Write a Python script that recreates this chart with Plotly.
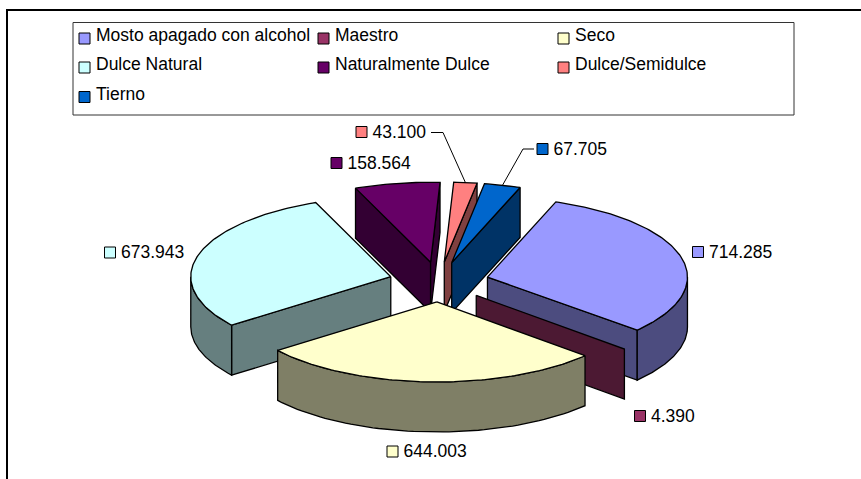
import numpy as np
import plotly.graph_objects as go

# ---- data ----
categories = ["Mosto apagado con alcohol", "Maestro", "Seco", "Dulce Natural",
              "Naturalmente Dulce", "Dulce/Semidulce", "Tierno"]
values = [714285, 4390, 644003, 673943, 158564, 43100, 67705]
colors = ["#9999FF", "#993366", "#FFFFCC", "#CCFFFF", "#660066", "#FF8080", "#0066CC"]

# ---- layout / projection parameters ----
W, H = 861, 479
CX, CY = 439, 282      # pie centre on the page
RX, RY = 200, 80       # tilted disc radii
DEPTH = 50             # thickness
EXPLODE = 0.25
FIRST_ANGLE = 20       # first slice angle, degrees clockwise from top
FONT = "Liberation Sans, Arial, sans-serif"
FS = 17.5

legend_x = [79, 318, 558]
legend_y = [38.5, 67.5, 97]
label_swatch_x = [698, 640, 392.5, 110, 336.5, 361.5, 542.5]
label_swatch_y = [252, 416, 451.5, 252.5, 163, 132, 149]
leader_knee = {5: [(431, 132.5), (443, 132.5)], 6: [(534, 149), (523, 149)]}


def darker(hex_color):
    r, g, b = (int(hex_color[i:i + 2], 16) for i in (1, 3, 5))
    return f"rgb({r // 2},{g // 2},{b // 2})"


def rim(ax, ay, t):
    rad = np.radians(t)
    return ax + RX * np.sin(rad), ay - RY * np.cos(rad)


def poly(fig, xs, ys, fill, name):
    xs, ys = list(xs), list(ys)
    fig.add_trace(go.Scatter(
        x=xs + xs[:1], y=ys + ys[:1], mode="lines", fill="toself", fillcolor=fill,
        line=dict(color="black", width=1.3), name=name, hoverinfo="skip", showlegend=False))


fig = go.Figure()

total = sum(values)
spans = np.array(values) / total * 360
starts = FIRST_ANGLE + np.concatenate([[0], np.cumsum(spans)[:-1]])
ends = starts + spans
mids = (starts + ends) / 2
apex_x = CX + EXPLODE * RX * np.sin(np.radians(mids))
apex_y = CY - EXPLODE * RY * np.cos(np.radians(mids))

for i in sorted(range(len(values)), key=lambda k: -np.cos(np.radians(mids[k]))):
    ax, ay, t1, t2 = apex_x[i], apex_y[i], starts[i], ends[i]
    side = darker(colors[i])
    sliver = spans[i] < 1.5    # too thin for a visible top: only its cut face shows
    # flat cut faces, drawn only when they look toward the viewer
    for t, normal in ((t1, t1 - 90), (t2, t2 + 90)):
        if np.cos(np.radians(normal)) < 0:
            px, py = rim(ax, ay, t)
            poly(fig, [ax, px, px, ax], [ay, py, py + DEPTH, ay + DEPTH], side, categories[i])
    if sliver:
        continue
    # outer wall: only the part facing the viewer
    for lo, hi in ((90, 270), (450, 630)):
        a, b = max(t1, lo), min(t2, hi)
        if a < b:
            ts = np.linspace(a, b, 60)
            px, py = rim(ax, ay, ts)
            poly(fig, np.r_[px, px[::-1]], np.r_[py, py[::-1] + DEPTH], side, categories[i])
    # top face
    ts = np.linspace(t1, t2, max(3, int(spans[i]) + 2))
    px, py = rim(ax, ay, ts)
    poly(fig, np.r_[ax, px], np.r_[ay, py], colors[i], categories[i])

# leader lines
for i, knee in leader_knee.items():
    ex, ey = rim(apex_x[i], apex_y[i], mids[i])
    fig.add_trace(go.Scatter(
        x=[p[0] for p in knee] + [ex], y=[p[1] for p in knee] + [ey], mode="lines",
        line=dict(color="black", width=1), hoverinfo="skip", showlegend=False))

# value labels
labels = [f"{v:,}".replace(",", ".") for v in values]
fig.add_trace(go.Scatter(
    x=label_swatch_x, y=label_swatch_y, mode="markers",
    marker=dict(symbol="square", size=11, color=colors, line=dict(color="black", width=1)),
    hoverinfo="skip", showlegend=False))
fig.add_trace(go.Scatter(
    x=[x + 11 for x in label_swatch_x], y=[y + 1.5 for y in label_swatch_y], mode="text", text=labels,
    textposition="middle right", textfont=dict(family=FONT, size=FS, color="black"),
    hoverinfo="skip", showlegend=False))

# legend entries (three columns, filled row by row)
leg_x = [legend_x[i % 3] + 5.5 for i in range(len(categories))]
leg_y = [legend_y[i // 3] for i in range(len(categories))]
fig.add_trace(go.Scatter(
    x=leg_x, y=leg_y, mode="markers",
    marker=dict(symbol="square", size=11, color=colors, line=dict(color="black", width=1)),
    hoverinfo="skip", showlegend=False))
fig.add_trace(go.Scatter(
    x=[x + 11.5 for x in leg_x], y=[y - 1.5 for y in leg_y], mode="text",
    text=categories, textposition="middle right",
    textfont=dict(family=FONT, size=FS, color="black"),
    hoverinfo="skip", showlegend=False))

fig.update_layout(
    width=W, height=H, margin=dict(l=0, r=0, t=0, b=0),
    paper_bgcolor="white", plot_bgcolor="white",
    xaxis=dict(range=[0, W], visible=False, fixedrange=True),
    yaxis=dict(range=[H, 0], visible=False, fixedrange=True),
    shapes=[
        dict(type="line", x0=7, x1=7, y0=10, y1=H, line=dict(color="black", width=2)),
        dict(type="line", x0=6, x1=W, y0=10, y1=10, line=dict(color="black", width=2)),
        dict(type="rect", x0=73, x1=794, y0=22.5, y1=115, line=dict(color="#333333", width=1)),
    ],
)

fig.write_html("out.html", config=dict(displayModeBar=False),
               post_script="document.body.style.margin='0';document.body.style.overflow='hidden';")
